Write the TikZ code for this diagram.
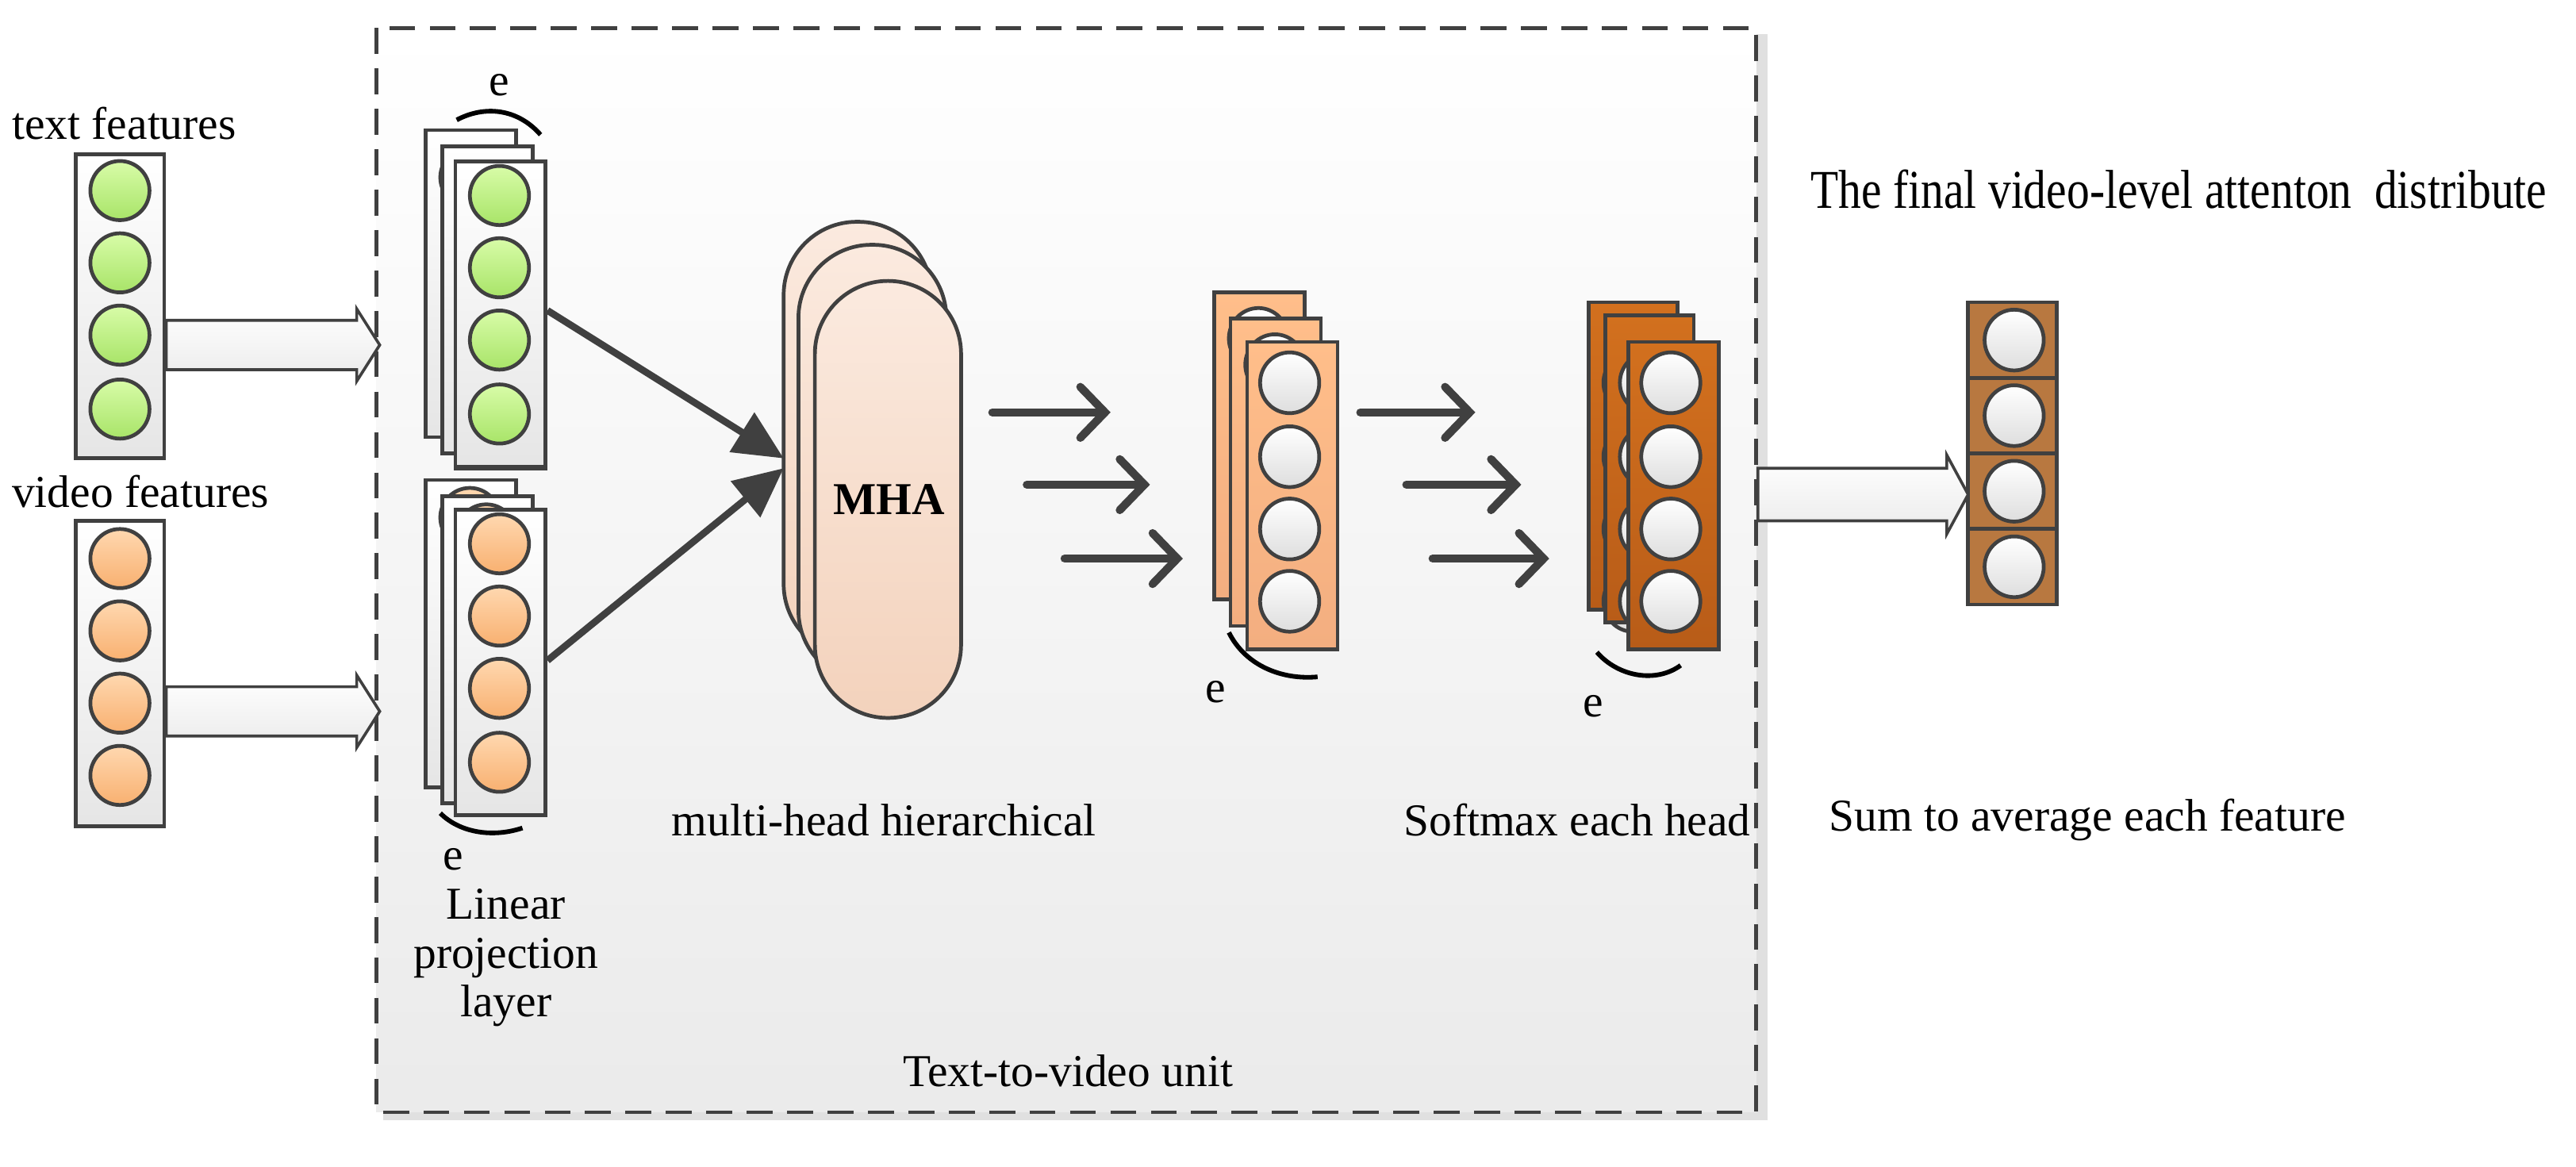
\documentclass[tikz,border=0pt]{standalone}
\usepackage{fontspec}
\setmainfont{Liberation Serif}
\usetikzlibrary{arrows.meta,shapes.geometric}
\definecolor{dk}{HTML}{404040}
\definecolor{gtop}{HTML}{D8FCA8}
\definecolor{gbot}{HTML}{A8E468}
\definecolor{otop}{HTML}{FFD8B0}
\definecolor{obot}{HTML}{F8B070}
\definecolor{mtop}{HTML}{FBEADF}
\definecolor{mbot}{HTML}{F3D2BC}
\definecolor{lotop}{HTML}{FFBE8A}
\definecolor{lobot}{HTML}{F3AE80}
\definecolor{dotop}{HTML}{D2701E}
\definecolor{dobot}{HTML}{B85C18}
\definecolor{fcol}{HTML}{B87840}
\tikzset{
  lbl/.style={font=\fontsize{15.8}{18}\selectfont, inner sep=0pt},
  colbox/.style={draw=dk, line width=1.3pt, top color=white, bottom color=black!10},
  gcirc/.style={draw=dk, line width=1.3pt, circle, minimum size=0.72cm, inner sep=0pt, top color=gtop, bottom color=gbot},
  ocirc/.style={draw=dk, line width=1.3pt, circle, minimum size=0.72cm, inner sep=0pt, top color=otop, bottom color=obot},
  wcirc/.style={draw=dk, line width=1.3pt, ellipse, minimum width=0.72cm, minimum height=0.74cm, inner sep=0pt, top color=white, bottom color=black!13},
  hollow/.style={draw=dk, line width=1pt, top color=white, bottom color=black!8},
  bigarr/.style={draw=dk, line width=2.4pt, -{Triangle[length=0.6cm,width=0.55cm]}},
  chev/.style={draw=dk, line width=2.8pt, line cap=round, -{Straight Barb[length=0.3cm,width=0.62cm,line cap=round]}},
  earc/.style={draw=black, line width=1.6pt},
  stad/.style={draw=dk, line width=1.3pt, rounded corners=0.89cm, top color=mtop, bottom color=mbot},
}
\begin{document}
\begin{tikzpicture}[x=0.02cm,y=-0.02cm]
\useasboundingbox (0,0) rectangle (1568,710);
% dashed unit box
\fill[black!12] (233,21) rectangle (1076,682);
\path[top color=white, bottom color=black!8] (229,17) rectangle (1069,677);
\draw[dk, line width=1.3pt, dash pattern=on 9pt off 5pt] (229,17) rectangle (1069,677);
\node[lbl] (unit) at (650,652) {Text-to-video unit};

% input columns
\node[lbl, anchor=west] (tf) at (7,75) {text features};
\node[lbl, anchor=west] (vf) at (7,299) {video features};
\node[colbox, minimum width=1.08cm, minimum height=3.7cm, inner sep=0pt] (tcol) at (73,186.5) {};
\node[colbox, minimum width=1.08cm, minimum height=3.72cm, inner sep=0pt] (vcol) at (73,410) {};
\foreach \y [count=\i] in {116,160,204,249} \node[gcirc] (tc\i) at (73,\y) {};
\foreach \y [count=\i] in {340,384,428,472} \node[ocirc] (vc\i) at (73,\y) {};

% hollow arrows
\coordinate (ha1) at (tcol.east |- 0,187);
\coordinate (ha2) at (vcol.east |- 0,410);
\foreach \c in {ha1,ha2}{
  \draw[hollow] ([yshift=-0.16cm]\c) -- ++(116,0) -- ++(0,-7) -- ++(14,22) -- ++(-14,22) -- ++(0,-7) -- ++(-116,0) -- cycle;
}

% linear projection stacks
\foreach \dx/\dy in {0/0,10/10,18/19}{
  \node[colbox, anchor=north west, minimum width=1.1cm, minimum height=3.74cm, inner sep=0pt] at (258+\dx,78+\dy) {};
  \node[gcirc] at (286+\dx,108+\dy) {};
}
\node[colbox, anchor=north west, minimum width=1.1cm, minimum height=3.72cm, inner sep=0pt] (lt) at (276,97) {};
\foreach \y [count=\i] in {119,163,207,252} \node[gcirc] (lc\i) at (304,\y) {};
\foreach \dx/\dy in {0/0,10/10}{
  \node[colbox, anchor=north west, minimum width=1.1cm, minimum height=3.74cm, inner sep=0pt] at (258+\dx,291+\dy) {};
  \node[ocirc] at (286+\dx,315+\dy) {};
}
\node[colbox, anchor=north west, minimum width=1.1cm, minimum height=3.72cm, inner sep=0pt] (lv) at (276,309) {};
\foreach \y [count=\i] in {331,375,419,464} \node[ocirc] (lvc\i) at (304,\y) {};
\draw[earc] (278,73) .. controls (295,64) and (315,66) .. (329,82);
\node[lbl] (e1) at (304,52) {e};
\draw[earc] (268,495) .. controls (280,507) and (300,510) .. (318,504);
\node[lbl] (e2) at (276,523) {e};
\node[lbl, align=center, font=\fontsize{15.8}{16.8}\selectfont] (lpl) at (308,583) {Linear\\projection\\layer};

% MHA
\path[stad] (477,135) rectangle (567,400);
\path[stad] (486,149) rectangle (576,416);
\path[stad] (496,171) rectangle (585,437);
\node[font=\fontsize{15.8}{18}\selectfont\bfseries] (mha) at (541,304) {MHA};
\coordinate (mhain1) at (477,279);
\coordinate (mhain2) at (477,285);
\draw[bigarr] (lt.east |- 0,189) -- (mhain1);
\draw[bigarr] (lv.east |- 0,402) -- (mhain2);
\node[lbl] (mhl) at (538,499) {multi-head hierarchical};

% chevron arrows 1
\coordinate (a1s) at (604,251); \coordinate (a1e) at (676,251);
\coordinate (a2s) at (625,295); \coordinate (a2e) at (700,295);
\coordinate (a3s) at (648,340); \coordinate (a3e) at (720,340);
\foreach \k in {1,2,3} \draw[chev] (a\k s) -- (a\k e);

% light orange stack
\tikzset{lo/.style={draw=dk, line width=1.3pt, top color=lotop, bottom color=lobot}}
\foreach \x/\y in {739/178,749/194}{
  \path[lo] (\x,\y) rectangle ++(55,187);
  \node[wcirc] at (\x+27,\y+28) {};
}
\node[lo, anchor=north west, minimum width=1.1cm, minimum height=3.74cm, inner sep=0pt] (los) at (758,207) {};
\foreach \y [count=\i] in {233,278,322,366} \node[wcirc] (loc\i) at (785,\y) {};
\draw[earc] (748,385) .. controls (758,405) and (780,414) .. (802,412);
\node[lbl] (e3) at (740,421) {e};

% chevron arrows 2
\coordinate (b1s) at (828,251); \coordinate (b1e) at (898,251);
\coordinate (b2s) at (856,295); \coordinate (b2e) at (926,295);
\coordinate (b3s) at (872,340); \coordinate (b3e) at (943,340);
\foreach \k in {1,2,3} \draw[chev] (b\k s) -- (b\k e);

% dark orange stack
\tikzset{do/.style={draw=dk, line width=1.3pt, top color=dotop, bottom color=dobot}}
\foreach \x/\y in {967/184,977/192}{
  \path[do] (\x,\y) rectangle ++(54,187);
  \foreach \yy in {233,278,322,366} \node[wcirc] at (\x+27,\yy) {};
}
\node[do, anchor=north west, minimum width=1.1cm, minimum height=3.74cm, inner sep=0pt] (dos) at (990,207) {};
\foreach \y [count=\i] in {233,278,322,366} \node[wcirc] (doc\i) at (1017,\y) {};
\draw[earc] (972,397) .. controls (985,412) and (1008,416) .. (1023,405);
\node[lbl] (e4) at (970,430) {e};
\node[lbl] (sm) at (960,499) {Softmax each head};

% final column
\tikzset{fc/.style={draw=dk, line width=1.3pt, fill=fcol, minimum width=1.08cm, minimum height=0.92cm, inner sep=0pt}}
\foreach \y [count=\i] in {207,253,299,345}{
  \node[fc] (f\i) at (1225,\y) {};
  \node[wcirc] (fcc\i) at (1226,\y) {};
}
\coordinate (hs) at (1070,277);
\draw[hollow] ([yshift=-0.16cm]hs) -- ++(115,0) -- ++(0,-8) -- ++(13,24) -- ++(-13,24) -- ++(0,-8) -- ++(-115,0) -- cycle;
\node[lbl, anchor=west] (fin) at (1102,115) {\scalebox{1.0}[1.2]{The final video-level attenton \ distribute}};
\node[lbl, anchor=west] (sum) at (1113,499) {Sum to average each feature};
\end{tikzpicture}
\end{document}
